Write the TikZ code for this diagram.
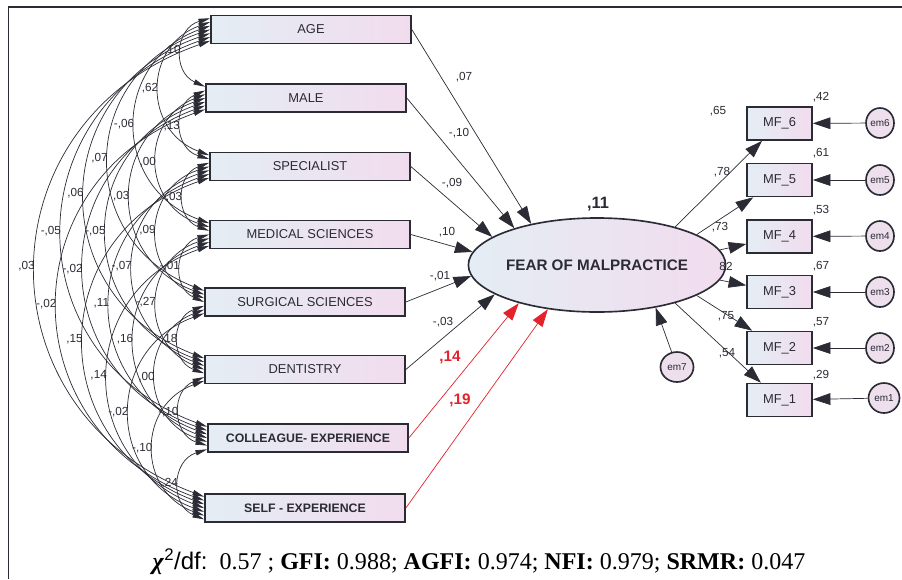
\documentclass[tikz,border=0pt]{standalone}
\usepackage{fontspec}
\setmainfont{Liberation Serif}
\setsansfont{Liberation Sans}
\usetikzlibrary{shapes.geometric, arrows.meta, calc}

\definecolor{boxleft}{HTML}{E4EDF4}
\definecolor{boxright}{HTML}{F1DCEE}
\definecolor{errfill}{HTML}{EEDFEC}
\definecolor{inkgrey}{HTML}{2B2B35}
\definecolor{sigred}{HTML}{E3222B}

\tikzset{
    observed/.style={rectangle, draw=inkgrey, line width=1.4pt, left color=boxleft, right color=boxright, minimum width=6cm, minimum height=0.84cm, text=inkgrey, font=\sffamily\fontsize{11}{13}\selectfont},
    indicator/.style={observed, minimum width=1.95cm, minimum height=0.99cm, font=\sffamily\fontsize{11}{13}\selectfont},
    latent/.style={ellipse, draw=inkgrey, line width=1.4pt, left color=boxleft, right color=boxright, minimum width=6cm, minimum height=2.82cm, inner sep=0pt, text=inkgrey, font=\sffamily\bfseries\fontsize{13}{15}\selectfont},
    error/.style={ellipse, draw=inkgrey, line width=1.4pt, fill=errfill, minimum width=0.84cm, minimum height=0.9cm, inner sep=0pt, text=inkgrey, font=\sffamily\fontsize{8.5}{9}\selectfont},
    effect/.style={-{Triangle[length=15pt, width=10pt]}, line width=0.6pt, draw=inkgrey},
    sigeffect/.style={effect, draw=sigred},
    covar/.style={{Triangle[length=10pt, width=4.5pt]}-{Triangle[length=10pt, width=4.5pt]}, line width=0.6pt, draw=inkgrey},
    coef/.style={inner sep=1pt, text=inkgrey, font=\sffamily\fontsize{10}{11}\selectfont},
    sigcoef/.style={coef, text=sigred, font=\sffamily\bfseries\fontsize{13}{15}\selectfont},
    frame/.style={line width=0.9pt, draw=inkgrey}
}

\begin{document}
\begin{tikzpicture}[x=0.03cm, y=0.03cm]
    \useasboundingbox (0,0) rectangle (902,-579);

    % frame of the figure
    \coordinate (frame-bl) at (8.5,-579);
    \coordinate (frame-tr) at (902,-7);
    \draw [frame] (frame-bl) |- (frame-tr);

    % predictors
    \node (obs1) [observed] at (311,-29.5) {AGE};
    \node (obs2) [observed] at (306,-98) {MALE};
    \node (obs3) [observed] at (310,-166.5) {SPECIALIST};
    \node (obs4) [observed] at (310,-234.5) {MEDICAL SCIENCES};
    \node (obs5) [observed] at (305,-302) {SURGICAL SCIENCES};
    \node (obs6) [observed] at (305,-369.5) {DENTISTRY};
    \node (obs7) [observed, font=\sffamily\bfseries\fontsize{10.5}{13}\selectfont] at (308,-438) {COLLEAGUE- EXPERIENCE};
    \node (obs8) [observed, font=\sffamily\bfseries\fontsize{10.5}{13}\selectfont] at (305,-508) {SELF - EXPERIENCE};

    % latent factor
    \node (fm) [latent] at (597,-265) {FEAR OF MALPRACTICE};
    \node (r2fm) [coef, font=\sffamily\bfseries\fontsize{14}{16}\selectfont] at (598,-204) {,11};

    % regression weights
    \draw [effect] (obs1.east) -- (fm.148);
    \draw [effect] (obs2.east) -- (fm.156);
    \draw [effect] (obs3.east) -- (fm.165);
    \draw [effect] (obs4.east) -- (fm.174);
    \draw [effect] (obs5.east) -- (fm.185);
    \draw [effect] (obs6.east) -- (fm.196);
    \draw [sigeffect] (obs7.east) -- (fm.206);
    \draw [sigeffect] (obs8.east) -- (fm.222);

    \node (w1) [coef] at (464,-77) {,07};
    \node (w2) [coef] at (459,-133) {-,10};
    \node (w3) [coef] at (452,-183) {-,09};
    \node (w4) [coef] at (447,-232) {,10};
    \node (w5) [coef] at (440,-276) {-,01};
    \node (w6) [coef] at (443,-322) {-,03};
    \node (w7) [sigcoef] at (450,-357) {,14};
    \node (w8) [sigcoef] at (460,-400) {,19};

    % residual of the factor
    \node (em7) [error, minimum width=0.99cm] at (677,-367) {em7};
    \draw [effect] (em7) -- (fm.324);

    % covariances between predictors
    \foreach \i/\j/\v [evaluate=\j as \ta using 0.12+(\j-2)*0.127, evaluate=\i as \tb using 0.12+(\i-1)*0.127] in
        {1/2/{,10}, 1/3/{,62}, 1/4/{-,06}, 2/3/{,13}, 1/5/{,07}, 2/4/{,00}, 1/6/{,06}, 2/5/{,03}, 3/4/{,03}, 1/7/{-,05},
         2/6/{-,05}, 3/5/{,09}, 1/8/{,03}, 2/7/{-,02}, 3/6/{-,07}, 4/5/{-,01}, 2/8/{-,02}, 3/7/{,11}, 4/6/{-,27}, 3/8/{,15},
         4/7/{,16}, 5/6/{,18}, 4/8/{,14}, 5/7/{,00}, 5/8/{-,02}, 6/7/{-,10}, 6/8/{-,10}, 7/8/{,24}}
        \draw [covar] ($(obs\i.north west)!\ta!(obs\i.south west)$) to[bend right=70, looseness=1.36]
            node[coef, anchor=east] {\v} ($(obs\j.north west)!\tb!(obs\j.south west)$);

    % indicators
    \node (mf6) [indicator] at (779.5,-123.5) {MF\_6};
    \node (mf5) [indicator] at (779.5,-180) {MF\_5};
    \node (mf4) [indicator] at (779.5,-236.5) {MF\_4};
    \node (mf3) [indicator] at (779.5,-292) {MF\_3};
    \node (mf2) [indicator] at (779.5,-348) {MF\_2};
    \node (mf1) [indicator] at (779.5,-400) {MF\_1};

    \node (em6) [error] at (880,-123) {em6};
    \node (em5) [error] at (880,-180) {em5};
    \node (em4) [error] at (880,-236) {em4};
    \node (em3) [error] at (880,-292) {em3};
    \node (em2) [error] at (880,-348) {em2};
    \node (em1) [error, minimum width=0.93cm] at (884,-398) {em1};

    \draw [effect] (fm.26) -- (mf6);
    \draw [effect] (fm.17.6) -- (mf5);
    \draw [effect] (fm.7) -- (mf4);
    \draw [effect] (fm.-7) -- (mf3);
    \draw [effect] (fm.-17) -- (mf2);
    \draw [effect] (fm.-26) -- (mf1);

    \draw [effect] (em6) -- (mf6);
    \draw [effect] (em5) -- (mf5);
    \draw [effect] (em4) -- (mf4);
    \draw [effect] (em3) -- (mf3);
    \draw [effect] (em2) -- (mf2);
    \draw [effect] (em1) -- (mf1);

    % loadings and squared multiple correlations
    \node (l6) [coef] at (718,-111) {,65};
    \node (l5) [coef] at (722,-172) {,78};
    \node (l4) [coef] at (720,-227) {,73};
    \node (l3) [coef] at (726,-266) {82};
    \node (l2) [coef] at (726,-316) {,75};
    \node (l1) [coef] at (727,-353) {,54};

    \node (r6) [coef] at (821,-97) {,42};
    \node (r5) [coef] at (821,-153) {,61};
    \node (r4) [coef] at (821,-210) {,53};
    \node (r3) [coef] at (821,-266) {,67};
    \node (r2) [coef] at (821,-322) {,57};
    \node (r1) [coef] at (821,-375) {,29};

    % fit indices
    \node (fit) [font=\fontsize{20.5}{22}\selectfont] at (479,-562) {{\bfseries\itshape χ}\textsf{\textsuperscript{2}/df:}\ \ 0.57 ; \textbf{GFI:} 0.988; \textbf{AGFI:} 0.974; \textbf{NFI:} 0.979; \textbf{SRMR:} 0.047};

\end{tikzpicture}
\end{document}
